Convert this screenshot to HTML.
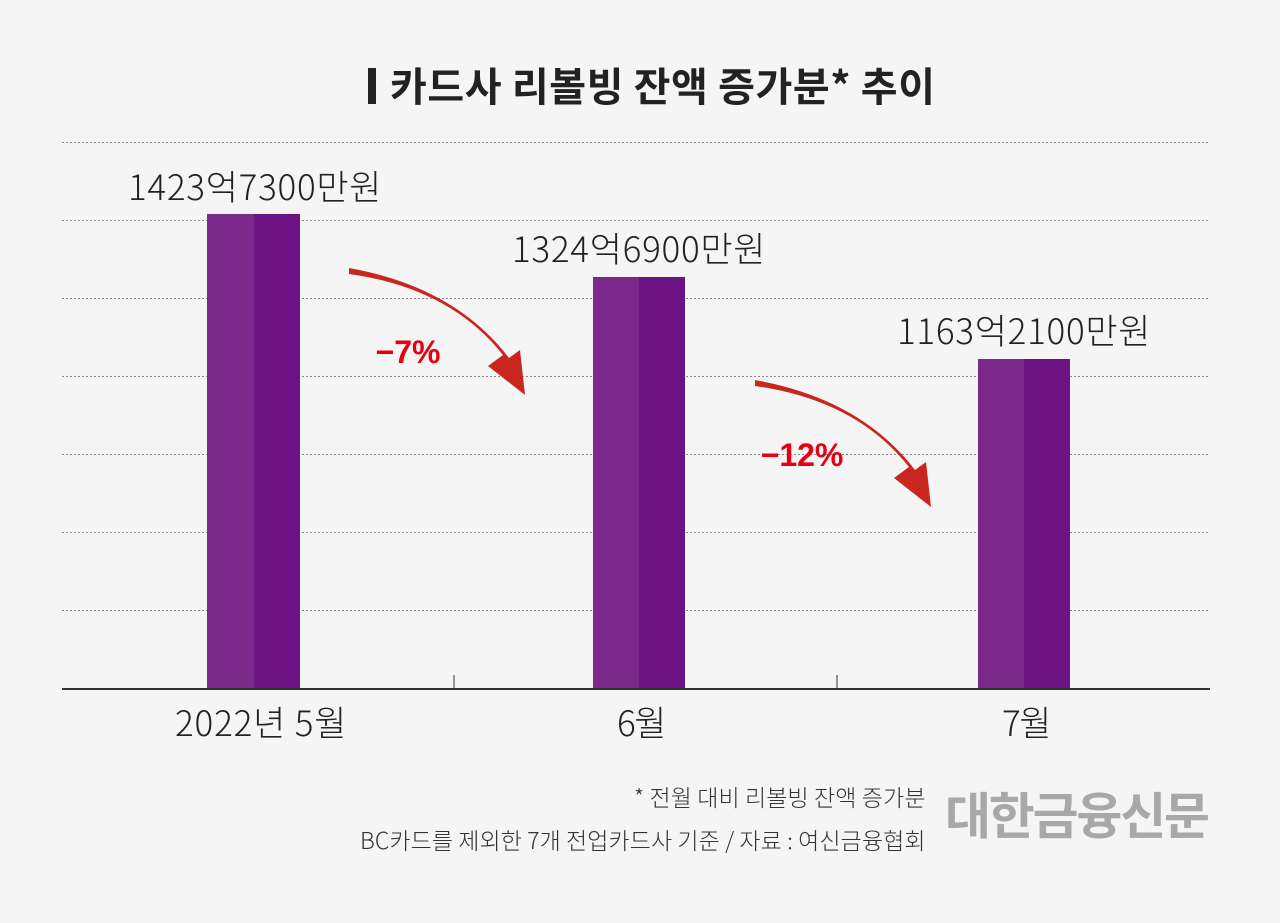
<!DOCTYPE html>
<html><head><meta charset="utf-8"><style>
body{margin:0;width:1280px;height:923px;background:#f5f5f5;overflow:hidden;font-family:"Liberation Sans","Noto Sans CJK KR",sans-serif;}
</style></head><body>
<svg width="1280" height="923" xmlns="http://www.w3.org/2000/svg" style="position:absolute;left:0;top:0">
<rect x="368" y="68" width="8" height="36" fill="#222"/>
<text x="390" y="101" font-size="40" font-weight="bold" fill="#222" font-family="Noto Sans CJK KR,sans-serif" textLength="545">카드사 리볼빙 잔액 증가분* 추이</text>
<g stroke="#888" stroke-width="1" stroke-dasharray="2,2">
<line x1="62" x2="1210" y1="142.5" y2="142.5"/><line x1="62" x2="1210" y1="220.5" y2="220.5"/>
<line x1="62" x2="1210" y1="298.5" y2="298.5"/><line x1="62" x2="1210" y1="376.5" y2="376.5"/>
<line x1="62" x2="1210" y1="454.5" y2="454.5"/><line x1="62" x2="1210" y1="532.5" y2="532.5"/>
<line x1="62" x2="1210" y1="610.5" y2="610.5"/>
</g>
<rect x="207" y="214" width="47" height="475" fill="#7b2a8c"/><rect x="254" y="214" width="46" height="475" fill="#6c1282"/>
<rect x="593" y="277" width="46" height="412" fill="#7b2a8c"/><rect x="639" y="277" width="46" height="412" fill="#6c1282"/>
<rect x="978" y="359" width="46" height="330" fill="#7b2a8c"/><rect x="1024" y="359" width="46" height="330" fill="#6c1282"/>
<line x1="62" x2="1210" y1="689" y2="689" stroke="#333" stroke-width="2"/>
<line x1="454" x2="454" y1="675" y2="689" stroke="#333"/><line x1="837" x2="837" y1="675" y2="689" stroke="#333"/>
<g font-family="Noto Sans CJK KR,sans-serif" fill="#222" font-size="35" font-weight="300" letter-spacing="-1.5">
<text x="128" y="200" textLength="252">1423억7300만원</text>
<text x="512" y="262" textLength="252">1324억6900만원</text>
<text x="897" y="344" textLength="252">1163억2100만원</text>
<text x="175" y="736" textLength="170">2022년 5월</text>
<text x="617" y="736">6월</text>
<text x="1002" y="736">7월</text>
</g>
<path d="M349,274 Q450,288 503,355 L488,366 L525,395 L520,350 L509,358 Q455,287 349,268 Z" fill="#c8261e"/>
<path d="M755,386 Q856,400 909,467 L894,478 L931,507 L926,462 L915,470 Q861,399 755,380 Z" fill="#c8261e"/>
<text x="408" y="363" font-size="32" font-weight="bold" fill="#e60012" text-anchor="middle">−7%</text>
<text x="802" y="466" font-size="32" font-weight="bold" fill="#e60012" text-anchor="middle">−12%</text>
<g font-family="Noto Sans CJK KR,sans-serif" fill="#333" font-size="23" font-weight="300" letter-spacing="-1.5">
<text x="634" y="806" textLength="290">* 전월 대비 리볼빙 잔액 증가분</text>
<text x="360" y="849" textLength="564">BC카드를 제외한 7개 전업카드사 기준 / 자료 : 여신금융협회</text>
</g>
<text x="945" y="834" font-family="Noto Sans CJK KR,sans-serif" font-size="50" font-weight="bold" fill="#a8a8a8" textLength="265">대한금융신문</text>
</svg>
</body></html>
